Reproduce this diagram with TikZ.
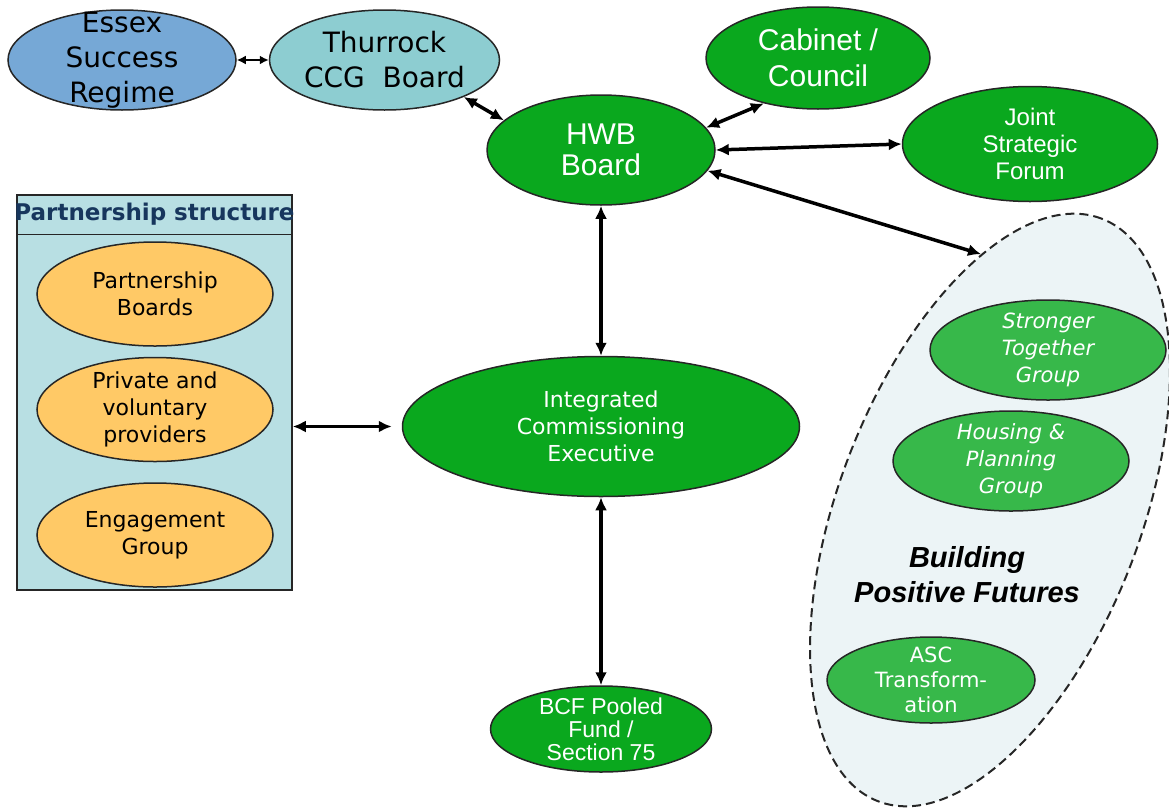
\documentclass[tikz,border=0pt]{standalone}
\usepackage{fontspec}
\setmainfont{Liberation Sans}
\newfontfamily\verdana{DejaVu Sans}
\usetikzlibrary{shapes.geometric,arrows.meta,positioning}

\newcommand\fsz[2]{\fontsize{#1}{#2}\selectfont}

\definecolor{hwbgreen}{RGB}{10,168,30}
\definecolor{bpfgreen}{RGB}{55,184,74}
\definecolor{essexblue}{RGB}{118,168,214}
\definecolor{ccgteal}{RGB}{141,205,209}
\definecolor{pborange}{RGB}{255,201,102}
\definecolor{pboxblue}{RGB}{184,223,227}
\definecolor{bpfback}{RGB}{236,244,246}
\definecolor{navy}{RGB}{23,54,93}

\begin{document}
\begin{tikzpicture}[x=1pt,y=-1pt,
    enode/.style={ellipse,draw=black!85,line width=1.5pt,inner sep=0pt},
    gnode/.style={enode,fill=hwbgreen},
    snode/.style={enode,fill=bpfgreen},
    onode/.style={enode,fill=pborange,minimum width=236,minimum height=104},
    link/.style={line width=3.5pt,{Latex[length=13pt,width=12pt]}-{Latex[length=13pt,width=12pt]}},
    smalllink/.style={line width=2.5pt,{Latex[length=9pt,width=9pt]}-{Latex[length=9pt,width=9pt]}}]
    \useasboundingbox (0,0) rectangle (1169,809);

    % top row
    \node[enode,fill=essexblue,minimum width=228,minimum height=100,
      label={[align=center,font=\verdana\fsz{28}{35}]center:Essex\\Success\\Regime}] (essex) at (122,60) {};
    \node[enode,fill=ccgteal,minimum width=230,minimum height=100,right=32pt of essex,
      label={[align=center,font=\verdana\fsz{28}{35}]center:Thurrock\\CCG\ \ Board}] (ccg) {};
    \node[gnode,minimum width=224,minimum height=102,
      label={[align=center,text=white,font=\fsz{30}{36}]center:Cabinet /\\Council}] (cabinet) at (818,58) {};
    \node[gnode,minimum width=228,minimum height=110,
      label={[align=center,text=white,font=\fsz{30}{31}]center:HWB\\Board}] (hwb) at (601,150) {};
    \node[gnode,minimum width=255,minimum height=115,
      label={[align=center,text=white,font=\fsz{24}{27}]center:Joint\\Strategic\\Forum}] (jsf) at (1030,144) {};

    % partnership structure
    \node[draw=black!85,line width=1.5pt,fill=pboxblue,minimum width=275,minimum height=395,inner sep=0pt] (pbox) at (154.5,392.5) {};
    \draw[draw=black!85,line width=1.5pt] ([yshift=-40pt]pbox.north west) -- ([yshift=-40pt]pbox.north east);
    \node[font=\verdana\bfseries\fsz{23}{27},text=navy,inner sep=0pt] (pstitle) at (154.5,214) {Partnership structure};
    \node[onode,label={[align=center,font=\verdana\fsz{22}{27}]center:Partnership\\Boards}] (pboards) at (155,294) {};
    \node[onode,below=10pt of pboards,
      label={[align=center,font=\verdana\fsz{22}{27}]center:Private and\\voluntary\\providers}] (private) {};
    \node[onode,below=20pt of private,
      label={[align=center,font=\verdana\fsz{22}{27}]center:Engagement\\Group}] (engage) {};

    % commissioning
    \node[gnode,minimum width=397,minimum height=140,below=150pt of hwb,
      label={[align=center,text=white,font=\verdana\fsz{22}{27}]center:Integrated\\Commissioning\\Executive}] (ice) {};
    \node[gnode,minimum width=221,minimum height=86,below=188pt of ice,
      label={[align=center,text=white,font=\fsz{23}{23}]center:BCF Pooled\\Fund /\\Section 75}] (bcf) {};

    % building positive futures
    \node[ellipse,draw=black!85,line width=2pt,dash pattern=on 9pt off 5pt,fill=bpfback,
      minimum width=624,minimum height=302,rotate=69] (bpf) at (990,510) {};
    \node[snode,minimum width=236,minimum height=100,
      label={[align=center,text=white,font=\verdana\itshape\fsz{21}{27}]center:Stronger\\Together\\Group}] (stronger) at (1048,350) {};
    \node[snode,minimum width=236,minimum height=100,
      label={[align=center,text=white,font=\verdana\itshape\fsz{21}{27}]center:Housing \&\\Planning\\Group}] (housing) at (1011,461) {};
    \node[font=\bfseries\itshape\fsz{29}{35},align=center,inner sep=0pt] (bpftitle) at (967,575) {Building\\Positive Futures};
    \node[snode,minimum width=208,minimum height=86,
      label={[align=center,text=white,font=\verdana\fsz{21}{25}]center:ASC\\Transform-\\ation}] (asc) at (931,680) {};

    \draw[smalllink] (essex.east) -- (ccg.west);
    \draw[link] (ccg.-25) -- (hwb.163);
    \draw[link] (hwb.12) -- (cabinet.-140);
    \draw[link] (hwb.east) -- (jsf.west);
    \draw[link] (hwb.-11) -- (bpf.23);
    \draw[link] (hwb) -- (ice);
    \draw[link] (ice) -- (bcf);
    \draw[link,shorten >=10pt] (ice.west -| pbox.east) -- (ice.west);
\end{tikzpicture}
\end{document}
